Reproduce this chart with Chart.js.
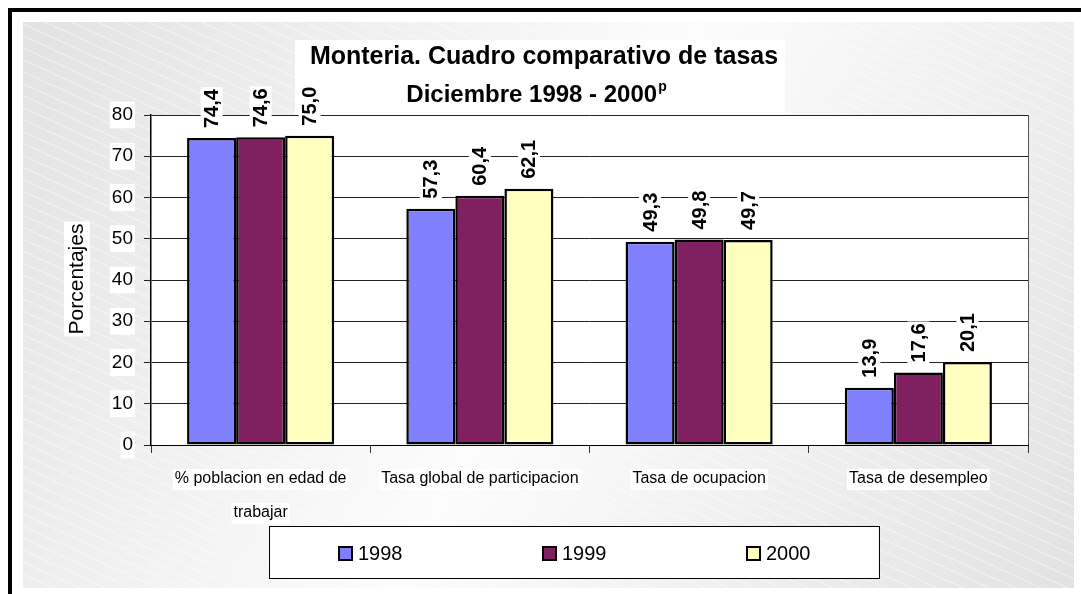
<!DOCTYPE html>
<html>
<head>
<meta charset="utf-8">
<script src="https://cdn.jsdelivr.net/npm/chart.js@4"></script>
<style>
  html, body { margin: 0; padding: 0; background: #fff; }
  canvas { display: block; }
</style>
</head>
<body>
<canvas id="chart" width="1081" height="594"></canvas>
<script>
// datos del cuadro
const categories = [['% poblacion en edad de', 'trabajar'], 'Tasa global de participacion', 'Tasa de ocupacion', 'Tasa de desempleo'];
const years = ['1998', '1999', '2000'];
const values1998 = [74.4, 57.3, 49.3, 13.9];
const values1999 = [74.6, 60.4, 49.8, 17.6];
const values2000 = [75.0, 62.1, 49.7, 20.1];
const yMin = 0, yMax = 80, yStep = 10;

const colors = ['#8080FF', '#802060', '#FFFFC0'];
const FONT = 'Arial, "Liberation Sans", sans-serif';

function fmt(v) {
    return v.toFixed(1).replace('.', ',');
}

// fondo, marco, titulo y cajas blancas detras de los textos
const backgroundPlugin = {
    id: 'fondo',
    beforeDraw(chart) {
        const ctx = chart.ctx;
        const area = chart.chartArea;
        ctx.save();

        // marco negro exterior
        ctx.fillStyle = '#000';
        ctx.fillRect(8, 8, 1081 - 8, 4);
        ctx.fillRect(8, 8, 4, 594 - 8);

        // area gris con degradado
        const gx0 = 23, gy0 = 22, gx1 = 1074, gy1 = 588;
        const grad = ctx.createLinearGradient(gx0, gy0, gx1, gy1);
        grad.addColorStop(0, '#e2e2e2');
        grad.addColorStop(0.5, '#fcfcfc');
        grad.addColorStop(1, '#e2e2e2');
        ctx.fillStyle = grad;
        ctx.fillRect(gx0, gy0, gx1 - gx0, gy1 - gy0);

        // rayas diagonales tenues
        ctx.save();
        ctx.beginPath();
        ctx.rect(gx0, gy0, gx1 - gx0, gy1 - gy0);
        ctx.clip();
        ctx.strokeStyle = 'rgba(255,255,255,0.55)';
        ctx.lineWidth = 1;
        for (let k = -1200; k < 1100; k += 26) {
            ctx.beginPath();
            ctx.moveTo(gx0 + k, gy0);
            ctx.lineTo(gx0 + k + 1300, gy0 + 1300 * 0.46);
            ctx.stroke();
        }
        ctx.restore();

        // titulo
        ctx.fillStyle = '#fff';
        ctx.fillRect(295, 40, 490, 75);
        ctx.fillStyle = '#000';
        ctx.textBaseline = 'alphabetic';
        ctx.textAlign = 'center';
        ctx.font = 'bold 25px ' + FONT;
        ctx.fillText('Monteria. Cuadro comparativo de tasas', 544, 64);
        const line2 = 'Diciembre 1998 - 2000';
        ctx.font = 'bold 24px ' + FONT;
        const w2 = ctx.measureText(line2).width;
        ctx.font = 'bold 14px ' + FONT;
        const wp = ctx.measureText('p').width;
        const startX = 536 - (w2 + wp) / 2;
        ctx.textAlign = 'left';
        ctx.font = 'bold 24px ' + FONT;
        ctx.fillText(line2, startX, 102);
        ctx.font = 'bold 14px ' + FONT;
        ctx.fillText('p', startX + w2 + 1, 91);

        // fondo blanco del area de trazado
        ctx.fillStyle = '#fff';
        ctx.fillRect(area.left, area.top, area.right - area.left, area.bottom - area.top);

        // titulo del eje y
        ctx.save();
        ctx.translate(77, 279);
        ctx.rotate(-Math.PI / 2);
        ctx.font = '21px ' + FONT;
        const wt = ctx.measureText('Porcentajes').width;
        ctx.fillStyle = '#fff';
        ctx.fillRect(-wt / 2 - 2, -13, wt + 4, 26);
        ctx.fillStyle = '#000';
        ctx.textAlign = 'center';
        ctx.textBaseline = 'middle';
        ctx.fillText('Porcentajes', 0, 0);
        ctx.restore();

        // cajas blancas detras de las etiquetas del eje x
        const xs = chart.scales.x;
        ctx.font = '16px ' + FONT;
        ctx.fillStyle = '#fff';
        categories.forEach((c, i) => {
            const lines = Array.isArray(c) ? c : [c];
            const px = xs.getPixelForTick(i);
            lines.forEach((ln, j) => {
                const w = ctx.measureText(ln).width;
                ctx.fillRect(px - w / 2 - 2, 469 + j * 34, w + 4, 21);
            });
        });

        ctx.restore();
    },
    afterDatasetsDraw(chart) {
        const ctx = chart.ctx;
        const area = chart.chartArea;
        ctx.save();

        // borde derecho del area de trazado
        ctx.strokeStyle = '#555';
        ctx.lineWidth = 1;
        ctx.beginPath();
        ctx.moveTo(area.right + 0.5, area.top);
        ctx.lineTo(area.right + 0.5, area.bottom);
        ctx.stroke();

        // etiquetas de valor, giradas
        ctx.font = 'bold 20px ' + FONT;
        chart.data.datasets.forEach((ds, di) => {
            const meta = chart.getDatasetMeta(di);
            meta.data.forEach((bar, i) => {
                const txt = fmt(ds.data[i]);
                const w = ctx.measureText(txt).width;
                ctx.save();
                ctx.translate(bar.x, bar.y - 10);
                ctx.rotate(-Math.PI / 2);
                ctx.fillStyle = '#fff';
                ctx.fillRect(-2, -11, w + 4, 22);
                ctx.fillStyle = '#000';
                ctx.textAlign = 'left';
                ctx.textBaseline = 'middle';
                ctx.fillText(txt, 0, 1);
                ctx.restore();
            });
        });
        ctx.restore();
    },
    afterDraw(chart) {
        // leyenda
        const ctx = chart.ctx;
        ctx.save();
        ctx.fillStyle = '#fff';
        ctx.fillRect(269, 526, 610, 52);
        ctx.strokeStyle = '#000';
        ctx.lineWidth = 1;
        ctx.strokeRect(269.5, 526.5, 610, 52);
        ctx.font = '20px ' + FONT;
        ctx.textBaseline = 'middle';
        ctx.textAlign = 'left';
        chart.data.datasets.forEach((ds, i) => {
            const x = 339 + i * 204;
            ctx.fillStyle = ds.backgroundColor;
            ctx.fillRect(x, 547, 13, 13);
            ctx.strokeStyle = '#000';
            ctx.lineWidth = 2;
            ctx.strokeRect(x, 547, 13, 13);
            ctx.fillStyle = '#000';
            ctx.fillText(ds.label, x + 19, 554);
        });
        ctx.restore();
    }
};

const ctx = document.getElementById('chart').getContext('2d');

new Chart(ctx, {
    type: 'bar',
    data: {
        labels: categories,
        datasets: [
            { label: years[0], data: values1998, backgroundColor: colors[0] },
            { label: years[1], data: values1999, backgroundColor: colors[1] },
            { label: years[2], data: values2000, backgroundColor: colors[2] }
        ].map(d => Object.assign(d, {
            borderColor: '#000',
            borderWidth: 2.5,
            borderSkipped: false,
            barPercentage: 1,
            categoryPercentage: 0.671
        }))
    },
    options: {
        responsive: false,
        animation: false,
        events: [],
        layout: { padding: { left: 91, top: 115, right: 53, bottom: 59 } },
        plugins: {
            legend: { display: false },
            title: { display: false },
            tooltip: { enabled: false }
        },
        scales: {
            x: {
                offset: true,
                afterFit: (s) => { s.height = 90; },
                grid: { display: true, drawOnChartArea: false, offset: true, tickLength: 8, color: '#333' },
                border: { display: true, color: '#000', width: 1 },
                ticks: {
                    color: '#000',
                    padding: 9,
                    maxRotation: 0,
                    autoSkip: false,
                    font: { family: FONT, size: 16, lineHeight: 34 / 16 }
                }
            },
            y: {
                min: yMin,
                max: yMax,
                afterFit: (s) => { s.width = 60; },
                grid: { color: '#222', lineWidth: 1, tickLength: 7 },
                border: { display: true, color: '#000', width: 1.5 },
                ticks: {
                    stepSize: yStep,
                    color: '#000',
                    padding: 11,
                    font: { family: FONT, size: 19 },
                    showLabelBackdrop: true,
                    backdropColor: '#fff',
                    backdropPadding: 2
                }
            }
        }
    },
    plugins: [backgroundPlugin]
});
</script>
</body>
</html>
